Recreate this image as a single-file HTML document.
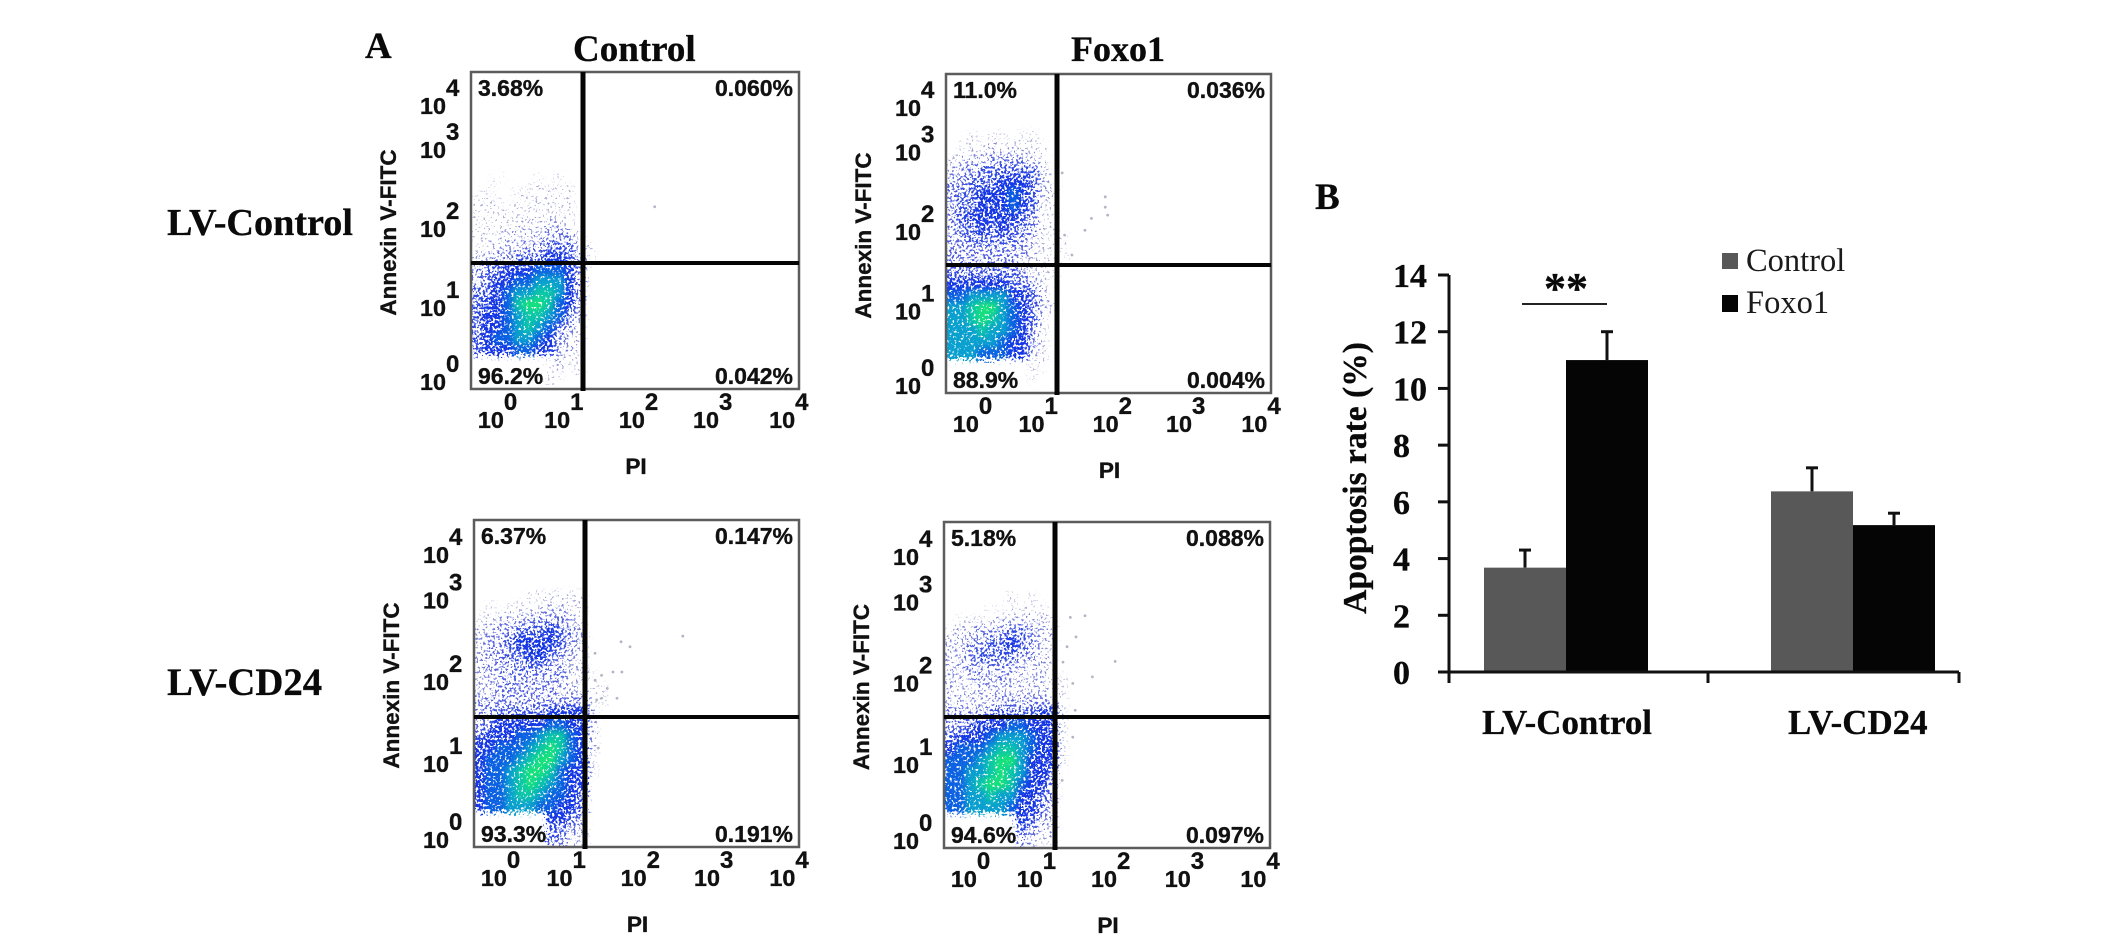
<!DOCTYPE html>
<html lang="en">
<head>
<meta charset="utf-8">
<title>Apoptosis flow cytometry and bar chart</title>
<style>
  html, body { margin: 0; padding: 0; background: #fff; }
  #figure { display: block; width: 2126px; height: 947px; }
  .sans { font-family: "Liberation Sans", sans-serif; font-weight: 700; fill: #111; stroke: #111; stroke-width: 0.35px; }
  .serif-b { font-family: "Liberation Serif", serif; font-weight: 700; fill: #0a0a0a; stroke: #0a0a0a; stroke-width: 0.3px; }
  .serif { font-family: "Liberation Serif", serif; font-weight: 400; fill: #1a1a1a; }
</style>
</head>
<body>
<svg id="figure" xmlns="http://www.w3.org/2000/svg" width="2126" height="947" viewBox="0 0 2126 947">
  <defs>
    <filter id="stipple" filterUnits="userSpaceOnUse" x="440" y="50" width="900" height="820" color-interpolation-filters="sRGB">
      <feGaussianBlur in="SourceGraphic" stdDeviation="3.2" result="soft"/>
      <feColorMatrix in="soft" type="matrix" values="1 0 0 0 0  0 1 0 0 0  0 0 1 0 0  0 0 0 0 1" result="ink"/>
      <feTurbulence type="fractalNoise" baseFrequency="0.42" numOctaves="2" seed="7" result="grain"/>
      <feColorMatrix in="grain" type="matrix" values="0 0 0 0 0  0 0 0 0 0  0 0 0 0 0  0 0 0 2.6 -0.8" result="grainAlpha"/>
      <feComposite in="soft" in2="grainAlpha" operator="arithmetic" k1="0" k2="1" k3="1" k4="-1" result="sum"/>
      <feComponentTransfer in="sum" result="mask"><feFuncA type="linear" slope="7" intercept="0"/></feComponentTransfer>
      <feComposite in="ink" in2="mask" operator="in"/>
    </filter>
  </defs>
  <text class="serif-b" x="365" y="58" font-size="37">A</text>
  <text class="serif-b" x="573" y="61" font-size="37">Control</text>
  <text class="serif-b" x="1071" y="61" font-size="36">Foxo1</text>
  <text class="serif-b" x="167" y="235" font-size="38.2">LV-Control</text>
  <text class="serif-b" x="167" y="695" font-size="38.8">LV-CD24</text>
  <text class="serif-b" x="1315" y="209" font-size="37">B</text>
  <g id="flow-panels"></g>
  <g id="bar-chart"></g>
</svg>
<script>
/* ---------- Flow cytometry data: density levels 0-9.
   Each array is listed from the top row to the bottom row; a row holds the left-to-right
   density per cell (1/8 decade wide, 1/7 decade tall). */
const densityControlLvControl = [
  [0],[0],[0],[0],[0],
  [0,0,1,0,0,0,1,0,1],
  [0,1,0,0,1,1,1,1,1,1],
  [1,1,1,0,1,1,1,1,1,1],
  [1,1,1,1,1,1,1,1,1,1],
  [1,1,1,1,1,2,1,2,2,1],
  [1,1,1,2,2,2,2,3,3,3,1],
  [1,1,2,2,2,3,3,4,4,4,2,1],
  [2,2,3,3,4,4,4,5,5,4,3,1],
  [3,4,4,5,5,5,6,6,6,5,3],
  [3,4,5,5,6,6,7,7,7,5,3],
  [4,4,5,6,7,7,8,8,7,5,3],
  [4,5,5,6,8,9,9,8,6,5,2],
  [4,5,5,6,7,8,8,7,6,4,2],
  [4,5,5,6,7,8,7,6,4,3,1],
  [4,5,6,6,7,7,6,5,3,2,1],
  [4,5,5,5,6,6,5,5,3,2,1],
  [0,0,0,0,0,0,0,0,2,1,1],
  [0,0,0,0,0,0,0,1,1,0,1],
  [0,0,0,0,0,0,0,1,0,0,0]
];
const densityFoxo1LvControl = [
  [0],
  [0,0,1,0,1,1,0,1,1],
  [0,1,1,1,2,1,2,1,1,1],
  [1,2,2,2,3,3,3,3,2,1],
  [2,3,3,4,4,4,4,4,4,2],
  [3,3,4,4,4,5,5,5,4,2,1],
  [3,4,4,5,5,5,6,5,4,2,1],
  [3,4,4,5,5,5,6,5,4,1,1],
  [3,4,5,5,5,5,5,4,3,1,1],
  [3,4,4,5,4,5,4,4,3,1,1],
  [3,3,4,4,4,4,4,3,2,1,1,1],
  [3,3,3,3,3,3,3,3,2,1,1,1],
  [3,3,3,3,3,3,3,2,1,1,1,1],
  [4,4,4,4,4,4,4,3,2,1,1],
  [5,5,5,5,5,5,4,4,3,1],
  [6,6,7,7,7,7,5,5,4,2],
  [7,7,8,9,9,7,6,5,4,2,1],
  [7,7,8,9,8,7,6,5,4,1],
  [7,7,7,8,7,7,6,5,3,1],
  [7,7,7,7,7,6,5,5,3,1],
  [7,7,7,6,6,6,5,5,2,1],
  [0,0,0,0,0,0,0,0,1,1],
  [0,0,0,0,0,0,0,0,1],
  [0]
];
const densityControlLvCd24 = [
  [0],[0],
  [0,0,0,0,0,1,1,1,1,1,1],
  [0,1,0,1,1,1,1,2,2,1,1],
  [1,1,2,2,2,3,3,3,3,2,1],
  [2,2,3,3,4,4,4,5,4,3,2],
  [2,3,3,4,5,5,5,5,4,3,2],
  [2,3,3,4,4,5,5,4,3,2,2],
  [2,3,3,3,4,4,4,3,3,2,2],
  [2,2,3,3,3,3,3,3,3,2,1,1],
  [2,2,3,3,3,3,3,3,2,2,2,1,1],
  [3,3,3,3,3,3,3,3,3,3,3,1,1],
  [3,3,4,4,4,4,4,5,5,5,5,2],
  [3,4,5,5,5,5,5,6,6,5,5,2],
  [4,5,5,5,6,6,7,8,8,6,5,2],
  [5,5,6,6,6,7,8,9,8,6,5,2],
  [5,6,6,6,7,8,9,9,7,6,5,1],
  [5,6,6,7,8,9,9,8,6,5,5,1],
  [5,6,6,7,8,9,8,7,6,5,5],
  [5,6,6,7,8,8,7,6,6,5,4],
  [5,6,6,7,7,7,6,6,5,5,4],
  [0,0,0,0,0,0,0,5,5,4,3],
  [0,0,0,0,0,0,0,4,4,3,2],
  [0,0,0,0,0,0,0,4,3,2,2]
];
const densityFoxo1LvCd24 = [
  [0],[0],
  [0,0,0,0,0,0,1,0,1],
  [0,0,0,0,1,0,1,1,1,1],
  [0,1,1,1,1,2,2,2,2,2,1],
  [1,2,2,3,3,3,4,4,3,2,2],
  [2,2,3,3,4,4,5,4,3,2,1],
  [2,2,3,4,4,4,4,3,3,2,1],
  [2,2,3,3,3,3,3,2,2,2,1],
  [2,2,2,3,2,3,2,2,2,2,1,1],
  [2,2,2,2,2,2,2,2,2,2,1,1],
  [2,2,2,2,2,3,3,3,3,3,3,1],
  [3,3,3,3,4,4,4,4,4,5,5,1],
  [3,3,4,5,5,5,6,6,5,5,5,1],
  [4,5,5,5,6,7,7,7,6,5,5,1],
  [5,6,6,6,7,8,8,7,6,5,5,1],
  [6,6,6,7,8,9,9,7,5,5,5,1],
  [6,6,7,7,8,9,8,7,5,5,4],
  [6,6,7,8,9,9,8,6,5,5,3],
  [6,6,7,7,8,7,7,5,5,4,3],
  [6,6,7,7,7,7,6,5,5,4,2],
  [0,0,0,0,0,0,0,5,4,3,2],
  [0,0,0,0,0,0,0,4,3,2,2],
  [0,0,0,0,0,0,0,3,2,1,1]
];

/* Isolated events: [PI decade, Annexin decade] */
const outliersControlLvControl = [[2.24,2.30]];
const outliersFoxo1LvControl = [[1.96,2.46],[1.96,2.33],[1.99,2.23],[1.79,2.19],[1.71,2.04],[1.46,1.98],[1.55,1.73],[1.43,2.76]];
const outliersControlLvCd24 = [[2.57,2.58],[1.81,2.51],[1.92,2.45],[1.49,2.37],[1.57,2.10],[1.71,2.14],[1.82,2.14],[1.64,1.94],[1.76,1.82],[1.57,1.82],[1.49,2.04],[1.51,1.80],[1.53,1.21]];
const outliersFoxo1LvCd24 = [[1.73,2.85],[1.55,2.83],[1.62,2.59],[1.51,2.47],[2.10,2.29],[1.82,2.10],[1.58,2.02],[1.46,2.28],[1.61,1.69],[1.58,1.36],[1.45,0.83]];

/* Quadrant percentages: upper-left, upper-right, lower-left, lower-right */
const quadrantsControlLvControl = ["3.68%","0.060%","96.2%","0.042%"];
const quadrantsFoxo1LvControl = ["11.0%","0.036%","88.9%","0.004%"];
const quadrantsControlLvCd24 = ["6.37%","0.147%","93.3%","0.191%"];
const quadrantsFoxo1LvCd24 = ["5.18%","0.088%","94.6%","0.097%"];
const decadeExponents = ["0","1","2","3","4"];

/* ---------- Bar chart data ---------- */
const barCategories = ["LV-Control","LV-CD24"];
const barTicks = [0,2,4,6,8,10,12,14];
const controlValues = [3.68,6.37];
const foxo1Values = [11.0,5.18];
const controlErrorTops = [4.3,7.2];
const foxo1ErrorTops = [12.0,5.6];

const SVGNS = "http://www.w3.org/2000/svg";
function make(tag, parent) {
  const el = document.createElementNS(SVGNS, tag);
  parent.appendChild(el);
  return el;
}
function line(parent, x1, y1, x2, y2, color, width) {
  const el = make("line", parent);
  el.setAttribute("x1", x1); el.setAttribute("y1", y1);
  el.setAttribute("x2", x2); el.setAttribute("y2", y2);
  el.setAttribute("stroke", color); el.setAttribute("stroke-width", width);
  return el;
}
function label(parent, cls, x, y, size, str, anchor) {
  const el = make("text", parent);
  el.setAttribute("class", cls);
  el.setAttribute("x", x); el.setAttribute("y", y);
  el.setAttribute("font-size", size);
  if (anchor) el.setAttribute("text-anchor", anchor);
  el.textContent = str;
  return el;
}

/* ---------- Flow panels ---------- */
const levelColor = ["#ffffff","#9a9ecb","#7d85da","#525fe0","#2f49e4","#1536e6","#0c62e2","#0aa0cf","#0cc6a8","#16e27a"];
const levelAlpha = [0,0.12,0.25,0.38,0.52,0.74,0.95,1,1,1];
const xTickFraction = [0.021,0.223,0.451,0.677,0.909];
const yTickFraction = [0,0.233,0.483,0.732,0.871];

function drawPanel(cfg) {
  const root = document.getElementById("flow-panels");
  const g = make("g", root);
  
  
  const w = cfg.right - cfg.left;
  const h = cfg.bottom - cfg.top;
  const xScale = d => cfg.left + d / 4 * w;
  const yScale = d => cfg.bottom - d / 4 * h;

  const clipId = "clip-" + cfg.key;
  const clip = make("clipPath", g);
  clip.setAttribute("id", clipId);
  const clipRect = make("rect", clip);
  clipRect.setAttribute("x", cfg.left);
  clipRect.setAttribute("y", cfg.top);
  clipRect.setAttribute("width", w);
  clipRect.setAttribute("height", h);
  const clipped = make("g", g);
  clipped.setAttribute("clip-path", "url(#" + clipId + ")");

  const dens = make("g", clipped);
  dens.setAttribute("filter", "url(#stipple)");
  
  
  const rowCount = cfg.density.length;
  cfg.density.forEach((row, i) => {
    const rowIndex = rowCount - 1 - i;
    row.forEach((lvl, c) => {
      if (!lvl) return;
      const bleed = c === 0 ? 9 : 0;
      const cell = make("rect", dens);
      cell.setAttribute("x", xScale(c / 8) + 1 - bleed);
      cell.setAttribute("y", yScale((rowIndex + 1) / 7));
      cell.setAttribute("width", xScale((c + 1) / 8) - xScale(c / 8) + bleed);
      cell.setAttribute("height", yScale(rowIndex / 7) - yScale((rowIndex + 1) / 7));
      cell.setAttribute("fill", levelColor[lvl]);
      cell.setAttribute("fill-opacity", levelAlpha[lvl]);
      
      
    });
  });
  cfg.outliers.forEach(p => {
    const dot = make("circle", g);
    dot.setAttribute("cx", xScale(p[0]));
    dot.setAttribute("cy", yScale(p[1]));
    dot.setAttribute("r", 1.4);
    dot.setAttribute("fill", "#b4b4c4");
    
    
  });

  const box = make("rect", g);
  box.setAttribute("x", cfg.left); box.setAttribute("y", cfg.top);
  box.setAttribute("width", w); box.setAttribute("height", h);
  box.setAttribute("fill", "none");
  box.setAttribute("stroke", "#5c5c5c");
  box.setAttribute("stroke-width", 2.5);
  
  

  const vGate = line(g, cfg.gateX, cfg.top, cfg.gateX, cfg.bottom + 2, "#050505", 5);
  
  
  const hGate = line(g, cfg.left, cfg.gateY, cfg.right, cfg.gateY, "#050505", 4);
  
  

  const q = cfg.quadrants;
  const ul = label(g, "sans", cfg.left + 7, cfg.top + 24, 23, q[0]);
  
  
  const ur = label(g, "sans", cfg.right - 6, cfg.top + 24, 23, q[1], "end");
  
  
  const ll = label(g, "sans", cfg.left + 7, cfg.bottom - 5, 23, q[2]);
  
  
  const lr = label(g, "sans", cfg.right - 6, cfg.bottom - 5, 23, q[3], "end");
  
  

  decadeExponents.forEach((e, i) => {
    const tx = cfg.left + xTickFraction[i] * w;
    const xBase = label(g, "sans", tx, cfg.bottom + 39, 23.4, "10");
    
    
    const xExp = label(g, "sans", tx + 26, cfg.bottom + 21, 24, e);
    
    
    const ty = cfg.bottom + 1 - yTickFraction[i] * h;
    const yBase = label(g, "sans", cfg.left - 51, ty, 23.4, "10");
    
    
    const yExp = label(g, "sans", cfg.left - 25, ty - 18, 24, e);
    
    
  });

  const xt = label(g, "sans", (cfg.left + cfg.right) / 2 + 1, cfg.bottom + 85, 22.6, "PI", "middle");
  
  
  const cy = (cfg.top + cfg.bottom) / 2 + 2;
  const yt = label(g, "sans", 0, 0, 22.5, "Annexin V-FITC", "middle");
  yt.setAttribute("transform", "translate(" + (cfg.left - 75) + "," + cy + ") rotate(-90)");
  
  
}

drawPanel({ key:"control-lv-control", left:471, right:799, top:72, bottom:389, gateX:583, gateY:263, density:densityControlLvControl, outliers:outliersControlLvControl, quadrants:quadrantsControlLvControl });
drawPanel({ key:"foxo1-lv-control", left:946, right:1271, top:74, bottom:393, gateX:1057, gateY:265, density:densityFoxo1LvControl, outliers:outliersFoxo1LvControl, quadrants:quadrantsFoxo1LvControl });
drawPanel({ key:"control-lv-cd24", left:474, right:799, top:520, bottom:847, gateX:585, gateY:717, density:densityControlLvCd24, outliers:outliersControlLvCd24, quadrants:quadrantsControlLvCd24 });
drawPanel({ key:"foxo1-lv-cd24", left:944, right:1270, top:522, bottom:848, gateX:1055, gateY:717, density:densityFoxo1LvCd24, outliers:outliersFoxo1LvCd24, quadrants:quadrantsFoxo1LvCd24 });

/* ---------- Bar chart ---------- */
(function () {
  const g = document.getElementById("bar-chart");
  const axisX = 1449, axisEnd = 1959, y0 = 672, y14 = 275;
  const yScale = v => y0 - v / 14 * (y0 - y14);
  const barW = 82;
  const groupCenter = i => 1566 + i * 287;
  const colors = ["#585858", "#050505"];

  function bar(name, i, side, value, errTop, color) {
    const x = groupCenter(i) + (side ? 0 : -barW);
    const mid = x + barW / 2;
    const stem = line(g, mid, yScale(errTop), mid, yScale(value), "#111", 3);
    
    
    const cap = line(g, mid - 6, yScale(errTop), mid + 6, yScale(errTop), "#111", 3);
    
    
    const r = make("rect", g);
    r.setAttribute("x", x);
    r.setAttribute("y", yScale(value));
    r.setAttribute("width", barW);
    r.setAttribute("height", y0 - yScale(value));
    r.setAttribute("fill", color);
    
    
  }
  barCategories.forEach((c, i) => {
    bar("control-" + c.toLowerCase(), i, 0, controlValues[i], controlErrorTops[i], colors[0]);
    bar("foxo1-" + c.toLowerCase(), i, 1, foxo1Values[i], foxo1ErrorTops[i], colors[1]);
  });

  const yAxis = line(g, axisX, y14, axisX, y0 + 11, "#111", 3);
  
  
  const xAxis = line(g, axisX - 11, y0, axisEnd, y0, "#111", 3);
  
  

  barTicks.forEach(t => {
    const tick = line(g, axisX - 11, yScale(t), axisX, yScale(t), "#111", 3);
    
    
    const txt = label(g, "serif-b", 1393, yScale(t) + 12, 34, String(t));
    
    
  });
  [1708, axisEnd].forEach(x => {
    const tick = line(g, x, y0, x, y0 + 11, "#111", 3);
    
    
  });

  const catX = [1482, 1788];
  barCategories.forEach((c, i) => {
    const t = label(g, "serif-b", catX[i], 734, 34.9, c);
    
    
  });

  const yTitle = label(g, "serif-b", 0, 0, 33.5, "Apoptosis rate (%)", "middle");
  yTitle.setAttribute("transform", "translate(1366,478) rotate(-90)");
  
  

  const sig = line(g, 1522, 304, 1607, 304, "#222", 2);
  
  
  const stars = label(g, "serif-b", 1566, 303, 44, "**", "middle");
  
  

  const sw1 = make("rect", g);
  sw1.setAttribute("x", 1722); sw1.setAttribute("y", 253);
  sw1.setAttribute("width", 16); sw1.setAttribute("height", 16);
  sw1.setAttribute("fill", colors[0]);
  
  
  const l1 = label(g, "serif", 1746, 271, 32.5, "Control");
  
  
  const sw2 = make("rect", g);
  sw2.setAttribute("x", 1722); sw2.setAttribute("y", 295);
  sw2.setAttribute("width", 16); sw2.setAttribute("height", 17);
  sw2.setAttribute("fill", colors[1]);
  
  
  const l2 = label(g, "serif", 1746, 313, 32.5, "Foxo1");
  
  
})();
</script>
</body>
</html>
